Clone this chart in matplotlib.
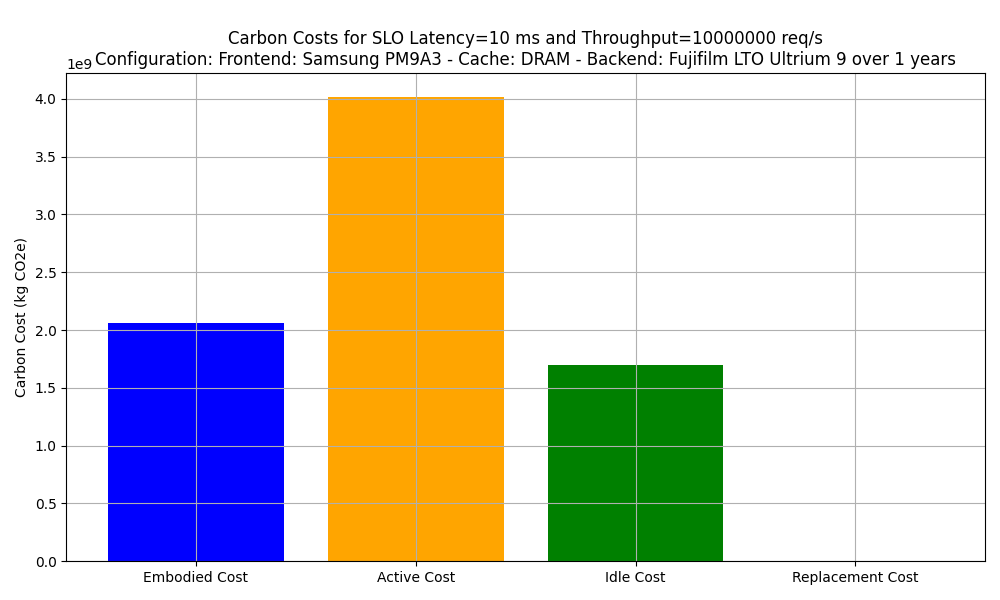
import matplotlib
matplotlib.use("Agg")
import matplotlib.pyplot as plt

categories = ["Embodied Cost", "Active Cost", "Idle Cost", "Replacement Cost"]
values = [2.06e9, 4.02e9, 1.70e9, 0.0]
colors = ["blue", "orange", "green", "red"]

fig, ax = plt.subplots(figsize=(10, 6), dpi=100)
ax.bar(categories, values, color=colors)
ax.set_ylabel("Carbon Cost (kg CO2e)")
ax.set_title("Carbon Costs for SLO Latency=10 ms and Throughput=10000000 req/s\n"
             "Configuration: Frontend: Samsung PM9A3 - Cache: DRAM - Backend: Fujifilm LTO Ultrium 9 over 1 years")
ax.grid(True)
fig.tight_layout()
fig.savefig("out.png")
